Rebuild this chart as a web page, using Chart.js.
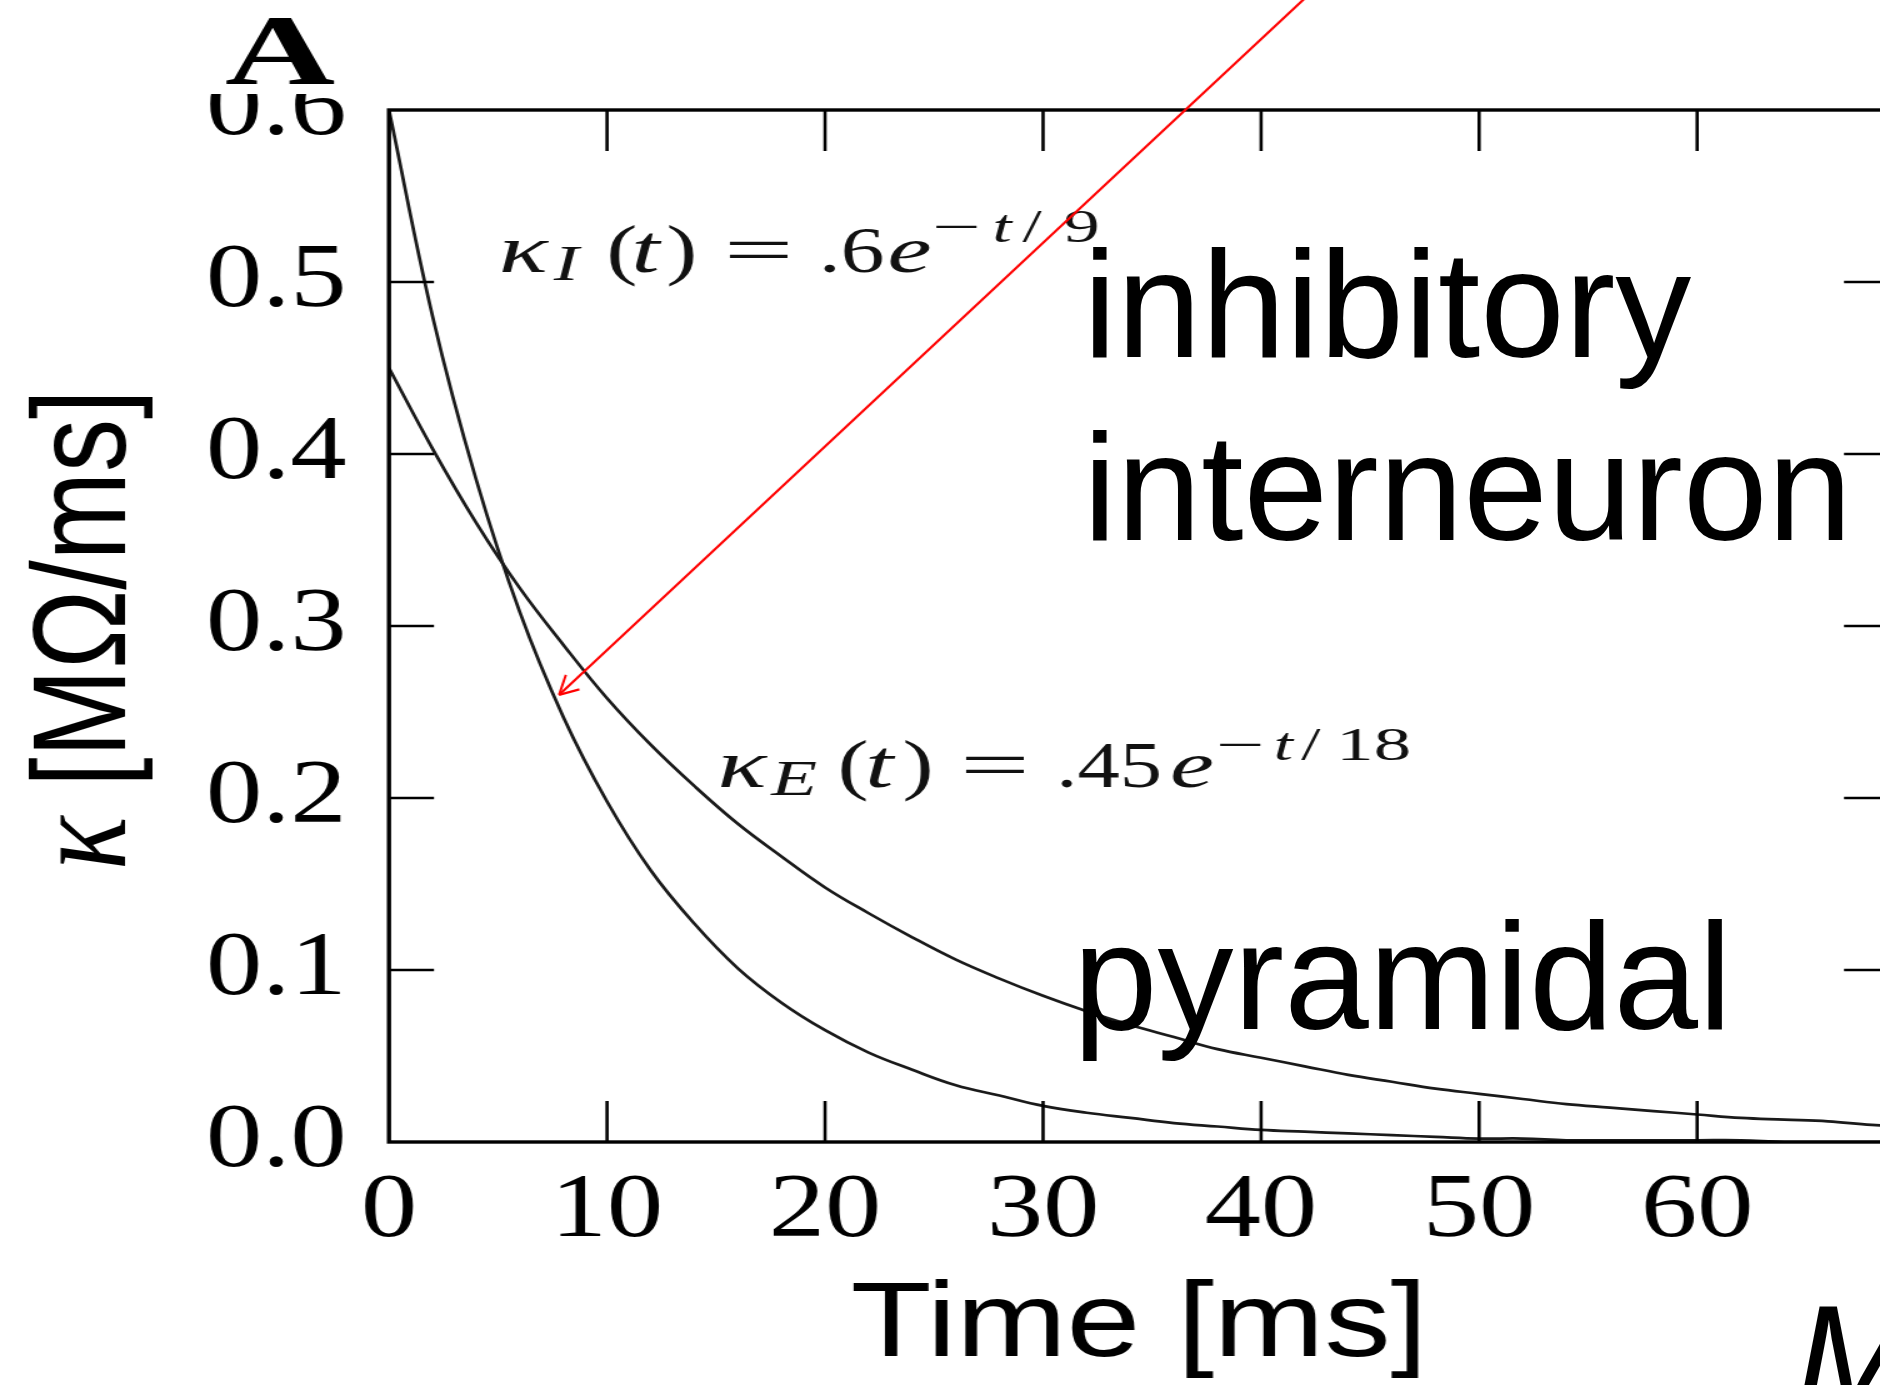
<!DOCTYPE html>
<html>
<head>
<meta charset="utf-8">
<script src="https://cdn.jsdelivr.net/npm/chart.js@4.4.1/dist/chart.umd.min.js"></script>
<style>
  html, body { margin: 0; padding: 0; background: #fff; width: 1880px; height: 1385px; overflow: hidden; }
  #kernel { position: absolute; left: 0; top: 0; transform: scaleX(1.25); transform-origin: 0 0; }
  #notes { position: absolute; left: 0; top: 0; pointer-events: none; }
  #notes text { font-family: "Liberation Sans", Arial, sans-serif; fill: #000; }
</style>
</head>
<body>
<canvas id="kernel" width="1560" height="1385"></canvas>
<svg id="notes" width="1880" height="1385">
  <text x="1083" y="357" font-size="152">inhibitory</text>
  <text x="1083" y="540" font-size="152">interneuron</text>
  <text x="1073" y="1029" font-size="152">pyramidal</text>
  <text x="1795" y="1410" font-size="150" font-style="italic">M</text>
</svg>
<script>
// time axis (ms) and kernel values
const timeMs = [0, 2, 4, 6, 8, 10, 12, 14, 16, 18, 20, 22, 24, 26, 28, 30, 32, 34,
  36, 38, 40, 42, 44, 46, 48, 50, 52, 54, 56, 58, 60, 62, 64, 66, 68, 70];
const kappaI = [0.600, 0.480, 0.385, 0.308, 0.247, 0.198, 0.158, 0.127, 0.101, 0.081,
  0.065, 0.052, 0.042, 0.033, 0.027, 0.021, 0.017, 0.014, 0.011, 0.009, 0.007, 0.006,
  0.005, 0.004, 0.003, 0.002, 0.002, 0.001, 0.001, 0.001, 0.001, 0.001, 0.000, 0.000,
  0.000, 0.000];
const kappaE = [0.450, 0.403, 0.360, 0.322, 0.289, 0.258, 0.231, 0.207, 0.185, 0.166,
  0.148, 0.133, 0.119, 0.106, 0.095, 0.085, 0.076, 0.068, 0.061, 0.054, 0.049, 0.044,
  0.039, 0.035, 0.031, 0.028, 0.025, 0.022, 0.020, 0.018, 0.016, 0.014, 0.013, 0.012,
  0.010, 0.009];
const xTickValues = [0, 10, 20, 30, 40, 50, 60];
const yTickValues = [0, 0.1, 0.2, 0.3, 0.4, 0.5, 0.6];
// point where the red arrow lands on the inhibitory curve (ms, kappa)
const arrowTip = [7.8, 0.26];

const STRETCH = 1.25;           // canvas is widened by css
const CANVAS_W = 1560;
const PLOT_LEFT = 311.2, PLOT_RIGHT = 1511.2, PLOT_TOP = 110, PLOT_BOTTOM = 1142;

const rm = s => `${s}px "Liberation Serif"`;
const it = s => `italic ${s}px "Liberation Serif"`;

// box with inward ticks on all four sides
const frameTicks = {
  id: 'frameTicks',
  afterDatasetsDraw(chart) {
    const { ctx, chartArea: a, scales: { x, y } } = chart;
    const seg = (x1, y1, x2, y2) => { ctx.beginPath(); ctx.moveTo(x1, y1); ctx.lineTo(x2, y2); ctx.stroke(); };
    ctx.save();
    ctx.strokeStyle = '#000';
    ctx.lineWidth = 2.6;
    x.ticks.forEach(t => {
      if (t.value <= 0) return;
      const px = x.getPixelForValue(t.value);
      seg(px, a.bottom, px, a.bottom - 41);
      seg(px, a.top, px, a.top + 41);
    });
    y.ticks.forEach(t => {
      if (t.value < 0.05 || t.value > 0.55) return;
      const py = y.getPixelForValue(t.value);
      seg(a.left, py, a.left + 36, py);
      seg(a.right, py, a.right - 36, py);
    });
    ctx.lineWidth = 3.4;
    ctx.strokeRect(a.left, a.top, a.right - a.left, a.bottom - a.top);
    ctx.restore();
  }
};

function drawRun(ctx, pieces, baseY) {
  pieces.forEach(([text, font, x, dy, sx]) => {
    ctx.save();
    ctx.font = font;
    ctx.translate(x, baseY + dy);
    ctx.scale(sx, 1);
    ctx.fillText(text, 0, 0);
    ctx.restore();
  });
}

const notes = {
  id: 'notes',
  afterDraw(chart) {
    const { ctx, scales: { x, y } } = chart;
    ctx.save();
    ctx.textAlign = 'left';
    ctx.textBaseline = 'alphabetic';

    // panel letter sits over the top tick label
    ctx.fillStyle = '#fff';
    ctx.fillRect(120, 0, 185, 94);
    ctx.fillStyle = '#000';
    ctx.save();
    ctx.font = 'bold 100px "Liberation Serif"';
    ctx.textAlign = 'center';
    ctx.translate(224, 84);
    ctx.scale(1.22, 1);
    ctx.fillText('A', 0, 0);
    ctx.restore();

    // kernel formulas
    ctx.fillStyle = '#111';
    drawRun(ctx, [
      ['κ', it(68), 399, 0, 1.2],
      ['I', it(50), 443, 8, 1.2],
      ['(', rm(68), 485, 0, 1.1],
      ['t', it(68), 505, 0, 1.2],
      [')', rm(68), 533, 0, 1.1],
      ['=', rm(66), 579, 0, 1.5],
      ['.6', rm(65), 655, 0, 1.08],
      ['e', it(66), 710, 0, 1.2],
      ['−', rm(46), 746, -30, 1.5],
      ['t', it(46), 794, -30, 1.2],
      ['/', rm(46), 818, -30, 1.2],
      ['9', rm(46), 851, -30, 1.25]
    ], 272);
    drawRun(ctx, [
      ['κ', it(68), 574, 0, 1.2],
      ['E', it(50), 617, 8, 1.2],
      ['(', rm(68), 670, 0, 1.1],
      ['t', it(68), 692, 0, 1.2],
      [')', rm(68), 722, 0, 1.1],
      ['=', rm(66), 768, 0, 1.5],
      ['.45', rm(65), 845, 0, 1.04],
      ['e', it(66), 936, 0, 1.2],
      ['−', rm(46), 973, -27, 1.5],
      ['t', it(46), 1019, -27, 1.2],
      ['/', rm(46), 1041, -27, 1.2],
      ['18', rm(46), 1069, -27, 1.3]
    ], 787);

    // y axis title, kappa in serif italic, units in sans
    ctx.fillStyle = '#000';
    ctx.save();
    ctx.translate(100, 870);
    ctx.rotate(-Math.PI / 2);
    ctx.font = it(112);
    ctx.fillText('κ', 0, 0);
    const kw = ctx.measureText('κ').width;
    ctx.font = '106px "Liberation Sans"';
    ctx.fillText(' [MΩ/ms]', kw, 0);
    ctx.restore();

    // red arrow onto the inhibitory curve, drawn in unstretched pixels
    ctx.save();
    ctx.scale(1 / STRETCH, 1);
    const tx = x.getPixelForValue(arrowTip[0]) * STRETCH;
    const ty = y.getPixelForValue(arrowTip[1]);
    const sx = 1303, sy = 0;
    const len = Math.hypot(sx - tx, sy - ty);
    const ux = (sx - tx) / len, uy = (sy - ty) / len;
    ctx.strokeStyle = '#ff0000';
    ctx.lineWidth = 2.4;
    ctx.beginPath();
    ctx.moveTo(tx, ty);
    ctx.lineTo(sx + ux * 30, sy + uy * 30);
    ctx.stroke();
    const barb = 21, ang = 28 * Math.PI / 180;
    ctx.beginPath();
    [ang, -ang].forEach(a => {
      const bx = ux * Math.cos(a) - uy * Math.sin(a);
      const by = ux * Math.sin(a) + uy * Math.cos(a);
      ctx.moveTo(tx, ty);
      ctx.lineTo(tx + bx * barb, ty + by * barb);
    });
    ctx.stroke();
    ctx.restore();

    ctx.restore();
  }
};

const toPoints = vals => timeMs.map((t, i) => ({ x: t, y: vals[i] }));

new Chart(document.getElementById('kernel'), {
  type: 'line',
  data: {
    datasets: [
      {
        label: 'kappa_I',
        data: toPoints(kappaI),
        borderColor: '#1a1a1a',
        borderWidth: 2.7,
        pointRadius: 0,
        tension: 0.4,
        fill: false
      },
      {
        label: 'kappa_E',
        data: toPoints(kappaE),
        borderColor: '#1a1a1a',
        borderWidth: 2.7,
        pointRadius: 0,
        tension: 0.4,
        fill: false
      }
    ]
  },
  options: {
    responsive: false,
    animation: false,
    devicePixelRatio: 1,
    layout: { padding: { top: PLOT_TOP, right: CANVAS_W - PLOT_RIGHT, left: 0, bottom: 0 } },
    plugins: { legend: { display: false }, tooltip: { enabled: false } },
    scales: {
      x: {
        type: 'linear',
        min: 0,
        max: 68.8,
        afterBuildTicks: s => { s.ticks = xTickValues.map(v => ({ value: v })); },
        afterFit: s => { s.height = 1385 - PLOT_BOTTOM; },
        grid: { display: false },
        border: { display: false },
        ticks: {
          color: '#000',
          font: { family: 'Liberation Serif', size: 90 },
          padding: 8,
          maxRotation: 0,
          autoSkip: false
        },
        title: {
          display: true,
          text: 'Time [ms]',
          color: '#000',
          font: { family: 'Liberation Sans', size: 106, lineHeight: 1 },
          padding: { top: 0, bottom: 5 }
        }
      },
      y: {
        min: 0,
        max: 0.6,
        afterBuildTicks: s => { s.ticks = yTickValues.map(v => ({ value: v })); },
        afterFit: s => { s.width = PLOT_LEFT; },
        grid: { display: false },
        border: { display: false },
        ticks: {
          color: '#000',
          font: { family: 'Liberation Serif', size: 90 },
          padding: 26,
          callback: v => v.toFixed(1)
        }
      }
    }
  },
  plugins: [frameTicks, notes]
});
</script>
</body>
</html>
